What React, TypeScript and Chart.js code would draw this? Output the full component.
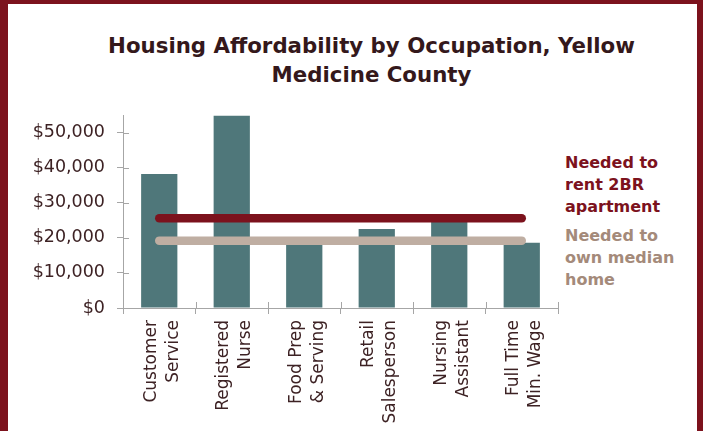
import React, { useEffect, useRef } from "react";
import { Chart, registerables } from "chart.js";

Chart.register(...registerables);

const categories: string[][] = [
  ["Customer", "Service"],
  ["Registered", "Nurse"],
  ["Food Prep", "& Serving"],
  ["Retail", "Salesperson"],
  ["Nursing", "Assistant"],
  ["Full Time", "Min. Wage"],
];
const wages = [38200, 54800, 19000, 22500, 25000, 18600];
const rentNeeded = [25600, 25600, 25600, 25600, 25600, 25600];
const ownNeeded = [19200, 19200, 19200, 19200, 19200, 19200];
const yTickValues = [0, 10000, 20000, 30000, 40000, 50000];
const yMax = 55000;

const titleLines = ["Housing Affordability by Occupation, Yellow", "Medicine County"];
const rentLabel = ["Needed to", "rent 2BR", "apartment"];
const ownLabel = ["Needed to", "own median", "home"];

const RED = "#7c121d";
const TAN_LINE = "#bfaea2";
const TAN_TEXT = "#a48a7a";
const TEAL = "#4f777a";
const AXIS = "#a6a6a6";
const TEXT = "#3d2224";

const crossTicks = {
  id: "crossTicks",
  afterDraw(chart: any) {
    const { ctx, chartArea } = chart;
    const xs = chart.scales.x;
    const ys = chart.scales.y;
    ctx.save();
    ctx.strokeStyle = AXIS;
    ctx.lineWidth = 1;
    ctx.beginPath();
    ys.ticks.forEach((t: any) => {
      const y = Math.round(ys.getPixelForValue(t.value)) + 0.5;
      ctx.moveTo(chartArea.left, y);
      ctx.lineTo(chartArea.left + 6, y);
    });
    for (let i = 0; i <= categories.length; i++) {
      const x = Math.round(xs.getPixelForValue(i - 0.5)) + 0.5;
      ctx.moveTo(x, chartArea.bottom);
      ctx.lineTo(x, chartArea.bottom - 6);
    }
    ctx.stroke();
    ctx.restore();
  },
};

export default function App() {
  const ref = useRef<HTMLCanvasElement | null>(null);

  useEffect(() => {
    document.body.style.margin = "0";
    const canvas = ref.current;
    if (!canvas) return;
    const chart = new Chart(canvas, {
      type: "bar",
      data: {
        labels: categories,
        datasets: [
          {
            type: "line",
            label: "Needed to rent 2BR apartment",
            data: rentNeeded,
            borderColor: RED,
            borderWidth: 8.5,
            borderCapStyle: "round",
            pointRadius: 0,
            order: 1,
          } as any,
          {
            type: "line",
            label: "Needed to own median home",
            data: ownNeeded,
            borderColor: TAN_LINE,
            borderWidth: 8.5,
            borderCapStyle: "round",
            pointRadius: 0,
            order: 1,
          } as any,
          {
            type: "bar",
            label: "Wage",
            data: wages,
            backgroundColor: TEAL,
            barPercentage: 0.5,
            categoryPercentage: 1.0,
            order: 2,
          },
        ],
      },
      options: {
        responsive: false,
        animation: false,
        devicePixelRatio: 1,
        layout: { padding: { top: 115, right: 145, left: 0, bottom: 0 } },
        plugins: {
          legend: { display: false },
          title: { display: false },
          tooltip: { enabled: false },
        },
        scales: {
          x: {
            offset: true,
            grid: {
              offset: true,
              drawOnChartArea: false,
              drawTicks: true,
              tickLength: 6,
              color: AXIS,
            },
            border: { color: AXIS, width: 1 },
            ticks: {
              autoSkip: false,
              minRotation: 90,
              maxRotation: 90,
              padding: 6,
              labelOffset: -8,
              color: TEXT,
              font: { family: "DejaVu Sans", size: 17, lineHeight: 1.3 },
            },
            afterFit: (scale: any) => {
              scale.height = 123;
            },
          },
          y: {
            min: 0,
            max: yMax,
            grid: {
              drawOnChartArea: false,
              drawTicks: true,
              tickLength: 6,
              color: AXIS,
            },
            border: { color: AXIS, width: 1 },
            ticks: {
              padding: 12,
              color: TEXT,
              font: { family: "DejaVu Sans", size: 17.5 },
              callback: (v: any) => "$" + Number(v).toLocaleString("en-US"),
            },
            afterBuildTicks: (scale: any) => {
              scale.ticks = yTickValues.map((v) => ({ value: v }));
            },
            afterFit: (scale: any) => {
              scale.width = 123;
            },
          },
        },
      },
      plugins: [crossTicks],
    });
    return () => chart.destroy();
  }, []);

  const sideText = (lines: string[], color: string, top: number) => (
    <div
      style={{
        position: "absolute",
        left: 565,
        top,
        fontFamily: "DejaVu Sans",
        fontWeight: "bold",
        fontSize: 16,
        lineHeight: "22px",
        color,
        whiteSpace: "nowrap",
      }}
    >
      {lines.map((l, i) => (
        <div key={i}>{l}</div>
      ))}
    </div>
  );

  return (
    <div
      style={{
        position: "fixed",
        left: 0,
        top: 0,
        width: 703,
        height: 431,
        background: "#ffffff",
        overflow: "hidden",
      }}
    >
      <div
        style={{
          position: "absolute",
          left: 0,
          top: 0,
          width: 703,
          height: 431,
          boxSizing: "border-box",
          borderTop: `4px solid ${RED}`,
          borderLeft: `8px solid ${RED}`,
          borderRight: `6px solid ${RED}`,
        }}
      />
      <div
        style={{
          position: "absolute",
          left: 0,
          width: 743,
          top: 31,
          textAlign: "center",
          fontFamily: "DejaVu Sans",
          fontWeight: "bold",
          fontSize: 21.3,
          lineHeight: "29px",
          color: "#34181b",
          whiteSpace: "nowrap",
        }}
      >
        {titleLines.map((l, i) => (
          <div key={i}>{l}</div>
        ))}
      </div>
      {sideText(rentLabel, RED, 151.5)}
      {sideText(ownLabel, TAN_TEXT, 225)}
      <canvas
        ref={ref}
        width={703}
        height={431}
        style={{ position: "absolute", left: 0, top: 0, width: 703, height: 431 }}
      />
    </div>
  );
}
